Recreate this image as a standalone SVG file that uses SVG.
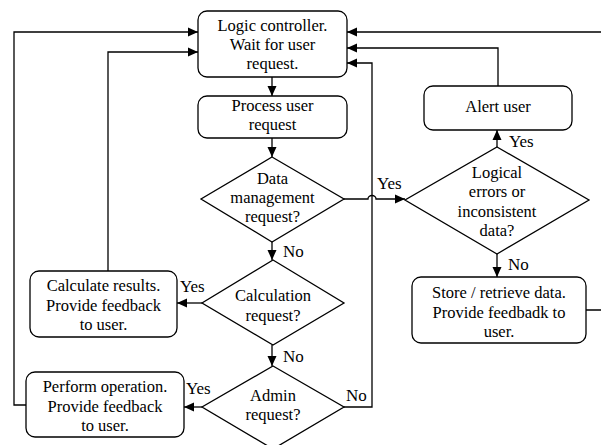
<svg xmlns="http://www.w3.org/2000/svg" width="601" height="445" viewBox="0 0 601 445">
<style>
.box{fill:#fff;stroke:#000;stroke-width:1.3}
.c{fill:none;stroke:#000;stroke-width:1.3}
.t{font-family:"Liberation Serif","Times New Roman",serif;font-size:16.5px;fill:#000}
.l{font-family:"Liberation Serif","Times New Roman",serif;font-size:17px;fill:#000}
.m{text-anchor:middle}
</style>
<defs>
<marker id="ah" markerUnits="userSpaceOnUse" markerWidth="11" markerHeight="10" refX="10" refY="5" orient="auto">
<path d="M0,0.5 L10,5 L0,9.5 z" fill="#000"/>
</marker>
</defs>
<rect width="601" height="445" fill="#fff"/>
<g id="connectors">
<path class="c" d="M272,77 V96" marker-end="url(#ah)"/>
<path class="c" d="M272,138 V157" marker-end="url(#ah)"/>
<path class="c" d="M272,242 V260" marker-end="url(#ah)"/>
<path class="c" d="M272,345 V366" marker-end="url(#ah)"/>
<path class="c" d="M202,303 H177" marker-end="url(#ah)"/>
<path class="c" d="M202,407 H184" marker-end="url(#ah)"/>
<path class="c" d="M108,271 V52 H198" marker-end="url(#ah)"/>
<path class="c" d="M26,405 H14 V32 H198" marker-end="url(#ah)"/>
<path class="c" d="M344,407 H372 V63 H347" marker-end="url(#ah)"/>
<path class="c" d="M344,199 H368 a4,3.5 0 0 1 8,0 H405" marker-end="url(#ah)"/>
<path class="c" d="M497,147 V130" marker-end="url(#ah)"/>
<path class="c" d="M498,86 V48 H347" marker-end="url(#ah)"/>
<path class="c" d="M497,254 V277" marker-end="url(#ah)"/>
<path class="c" d="M586,310 H606 V32 H347" marker-end="url(#ah)"/>
<g class="l">
<text x="283" y="257">No</text>
<text x="283" y="361.5">No</text>
<text x="180" y="291.5">Yes</text>
<text x="186" y="394">Yes</text>
<text x="346" y="400.5">No</text>
<text x="377" y="189">Yes</text>
<text x="509" y="147">Yes</text>
<text x="508" y="270">No</text>
</g>
</g>
<g id="logic">
<rect class="box" x="198" y="11" width="149" height="66" rx="9"/>
<text class="t m"><tspan x="272.5" y="30.7">Logic controller.</tspan><tspan x="272.5" y="50">Wait for user</tspan><tspan x="272.5" y="69.3">request.</tspan></text>
</g>
<g id="process">
<rect class="box" x="198" y="96" width="149" height="42" rx="9"/>
<text class="t m"><tspan x="272.5" y="111">Process user</tspan><tspan x="272.5" y="130.3">request</tspan></text>
</g>
<g id="data">
<polygon class="box" points="272,157 344,199 272,242 201,199"/>
<text class="t m"><tspan x="272.5" y="183.7">Data</tspan><tspan x="272.5" y="203">management</tspan><tspan x="272.5" y="222.3">request?</tspan></text>
</g>
<g id="calc">
<polygon class="box" points="273,260 344,303 273,345 202,303"/>
<text class="t m"><tspan x="273" y="301.2">Calculation</tspan><tspan x="273" y="320.5">request?</tspan></text>
</g>
<g id="admin">
<polygon class="box" points="273,366 344,407 273,449 202,407"/>
<text class="t m"><tspan x="273" y="400.9">Admin</tspan><tspan x="273" y="420.2">request?</tspan></text>
</g>
<g id="calcbox">
<rect class="box" x="30" y="271" width="147" height="66" rx="9"/>
<text class="t m"><tspan x="103.5" y="291.4">Calculate results.</tspan><tspan x="103.5" y="310.7">Provide feedback</tspan><tspan x="103.5" y="330">to user.</tspan></text>
</g>
<g id="perform">
<rect class="box" x="26" y="372" width="158" height="65" rx="9"/>
<text class="t m"><tspan x="105" y="392.2">Perform operation.</tspan><tspan x="105" y="411.5">Provide feedback</tspan><tspan x="105" y="430.8">to user.</tspan></text>
</g>
<g id="alert">
<rect class="box" x="424" y="86" width="148" height="44" rx="9"/>
<text class="t m" x="498" y="112.3">Alert user</text>
</g>
<g id="logical">
<polygon class="box" points="497,147 589,200 497,254 405,200"/>
<text class="t m"><tspan x="497" y="177.9">Logical</tspan><tspan x="497" y="197.2">errors or</tspan><tspan x="497" y="216.5">inconsistent</tspan><tspan x="497" y="235.8">data?</tspan></text>
</g>
<g id="store">
<rect class="box" x="412" y="277" width="174" height="66" rx="9"/>
<text class="t m"><tspan x="499" y="298.4">Store / retrieve data.</tspan><tspan x="499" y="317.7">Provide feedbadk to</tspan><tspan x="499" y="337">user.</tspan></text>
</g>
</svg>
